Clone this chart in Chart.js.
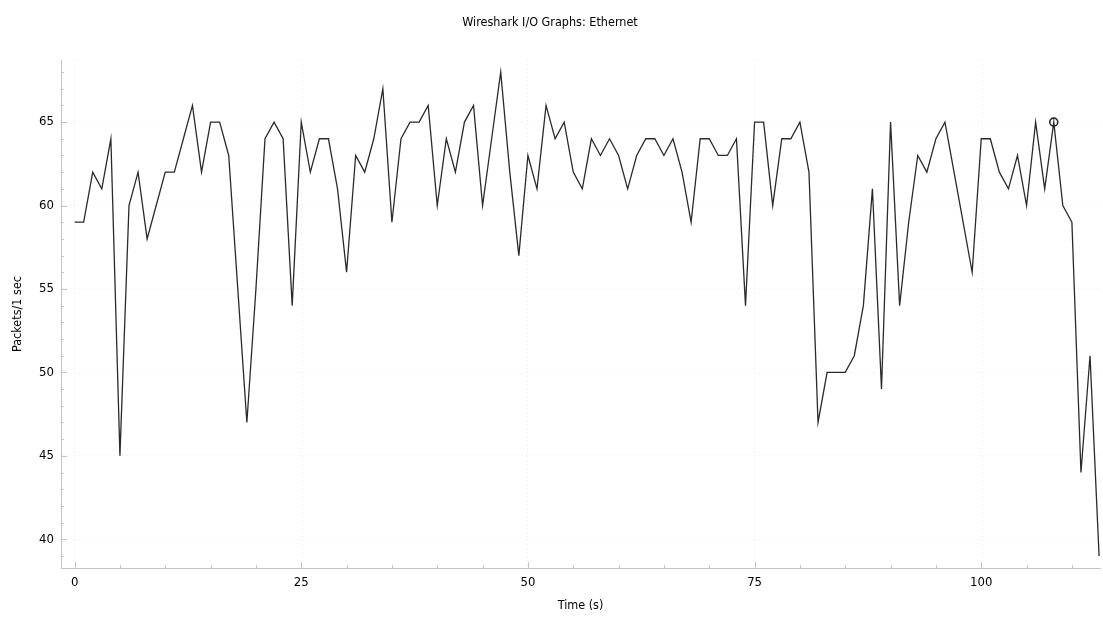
<!DOCTYPE html>
<html>
<head>
<meta charset="utf-8">
<title>Wireshark I/O Graphs: Ethernet</title>
<script src="https://cdn.jsdelivr.net/npm/chart.js@4.4.1/dist/chart.umd.min.js"></script>
<style>
  html, body { margin: 0; padding: 0; background: #ffffff; }
  #wrap { width: 1103px; height: 617px; }
</style>
</head>
<body>
<div id="wrap"><canvas id="io" width="1103" height="617"></canvas></div>
<script>
// Interval start times (s)
const timeSeconds = [
  0, 1, 2, 3, 4, 5, 6, 7, 8, 9,
  10, 11, 12, 13, 14, 15, 16, 17, 18, 19,
  20, 21, 22, 23, 24, 25, 26, 27, 28, 29,
  30, 31, 32, 33, 34, 35, 36, 37, 38, 39,
  40, 41, 42, 43, 44, 45, 46, 47, 48, 49,
  50, 51, 52, 53, 54, 55, 56, 57, 58, 59,
  60, 61, 62, 63, 64, 65, 66, 67, 68, 69,
  70, 71, 72, 73, 74, 75, 76, 77, 78, 79,
  80, 81, 82, 83, 84, 85, 86, 87, 88, 89,
  90, 91, 92, 93, 94, 95, 96, 97, 98, 99,
  100, 101, 102, 103, 104, 105, 106, 107, 108, 109,
  110, 111, 112, 113
];

// Ethernet packets counted in each 1 s interval
const packetsPerSec = [
  59, 59, 62, 61, 64, 45, 60, 62, 58, 60,
  62, 62, 64, 66, 62, 65, 65, 63, 55, 47,
  55, 64, 65, 64, 54, 65, 62, 64, 64, 61,
  56, 63, 62, 64, 67, 59, 64, 65, 65, 66,
  60, 64, 62, 65, 66, 60, 64, 68, 62, 57,
  63, 61, 66, 64, 65, 62, 61, 64, 63, 64,
  63, 61, 63, 64, 64, 63, 64, 62, 59, 64,
  64, 63, 63, 64, 54, 65, 65, 60, 64, 64,
  65, 62, 47, 50, 50, 50, 51, 54, 61, 49,
  65, 54, 59, 63, 62, 64, 65, 62, 59, 56,
  64, 64, 62, 61, 63, 60, 65, 61, 65, 60,
  59, 44, 51, 39
];

// Interval highlighted by the selection marker
const selectedIndex = 108;

// Axis tick labels
const xTickValues = [0, 25, 50, 75, 100];
const yTickValues = [40, 45, 50, 55, 60, 65];

// Axis extents
const xRange = [-1.5, 113.1];
const yRange = [38.28, 68.72];
const xMinorStep = 5;
const yMinorStep = 1;

const FONT = "'DejaVu Sans Condensed', 'DejaVu Sans', 'Liberation Sans', sans-serif";
const axisColor = '#c4c4c4';
const gridColor = '#ebebeb';
const lineColor = '#2a2a2a';

Chart.defaults.font.family = FONT;
Chart.defaults.color = '#000000';

const points = timeSeconds.map((t, i) => ({ x: t, y: packetsPerSec[i] }));

// Qt-style ticks drawn on the inner side of each axis
const innerTicks = {
  id: 'innerTicks',
  beforeDatasetsDraw(chart) {
    const { ctx, chartArea: a, scales: { x, y } } = chart;
    ctx.save();
    ctx.strokeStyle = axisColor;
    ctx.lineWidth = 1;
    ctx.beginPath();
    for (let v = Math.ceil(yRange[0]); v <= yRange[1]; v += yMinorStep) {
      const py = Math.round(y.getPixelForValue(v)) + 0.5;
      const len = yTickValues.includes(v) ? 6 : 3;
      ctx.moveTo(a.left, py);
      ctx.lineTo(a.left + len, py);
    }
    for (let v = 0; v <= xRange[1]; v += xMinorStep) {
      const px = Math.round(x.getPixelForValue(v)) + 0.5;
      const len = xTickValues.includes(v) ? 6 : 3;
      ctx.moveTo(px, a.bottom);
      ctx.lineTo(px, a.bottom - len);
    }
    ctx.stroke();
    ctx.restore();
  }
};

new Chart(document.getElementById('io'), {
  type: 'line',
  data: {
    datasets: [{
      label: 'All Packets',
      data: points,
      borderColor: lineColor,
      borderWidth: 1.3,
      tension: 0,
      fill: false,
      pointRadius: ctx => (ctx.dataIndex === selectedIndex ? 4 : 0),
      pointHoverRadius: 0,
      pointBorderWidth: 1.6,
      pointBorderColor: lineColor,
      pointBackgroundColor: 'rgba(255,255,255,0)'
    }]
  },
  options: {
    responsive: false,
    animation: false,
    events: [],
    layout: { padding: { left: 0, right: 3, top: 0, bottom: 0 } },
    plugins: {
      legend: { display: false },
      tooltip: { enabled: false },
      title: {
        display: true,
        text: 'Wireshark I/O Graphs: Ethernet',
        color: '#000000',
        font: { size: 12.5, weight: 'normal' },
        padding: { top: 15, bottom: 30 }
      }
    },
    scales: {
      x: {
        type: 'linear',
        min: xRange[0],
        max: xRange[1],
        afterBuildTicks: s => { s.ticks = xTickValues.map(v => ({ value: v })); },
        afterFit: s => { s.height = 49; },
        ticks: {
          color: '#000000',
          font: { size: 13 },
          padding: 7,
          maxRotation: 0,
          callback: v => String(v)
        },
        grid: { color: gridColor, lineWidth: 1, drawTicks: false },
        border: { display: true, color: axisColor, width: 1, dash: [1, 3] },
        title: {
          display: true,
          text: 'Time (s)',
          color: '#000000',
          font: { size: 12.5 },
          padding: { top: 0, bottom: 4 }
        }
      },
      y: {
        type: 'linear',
        min: yRange[0],
        max: yRange[1],
        afterBuildTicks: s => { s.ticks = yTickValues.map(v => ({ value: v })); },
        afterFit: s => { s.width = 61; },
        ticks: {
          color: '#000000',
          font: { size: 13 },
          padding: 7,
          callback: v => String(v)
        },
        grid: { color: gridColor, lineWidth: 1, drawTicks: false },
        border: { display: true, color: axisColor, width: 1, dash: [1, 3] },
        title: {
          display: true,
          text: 'Packets/1 sec',
          color: '#000000',
          font: { size: 12.5 },
          padding: { top: 10, bottom: 0 }
        }
      }
    }
  },
  plugins: [innerTicks]
});
</script>
</body>
</html>
